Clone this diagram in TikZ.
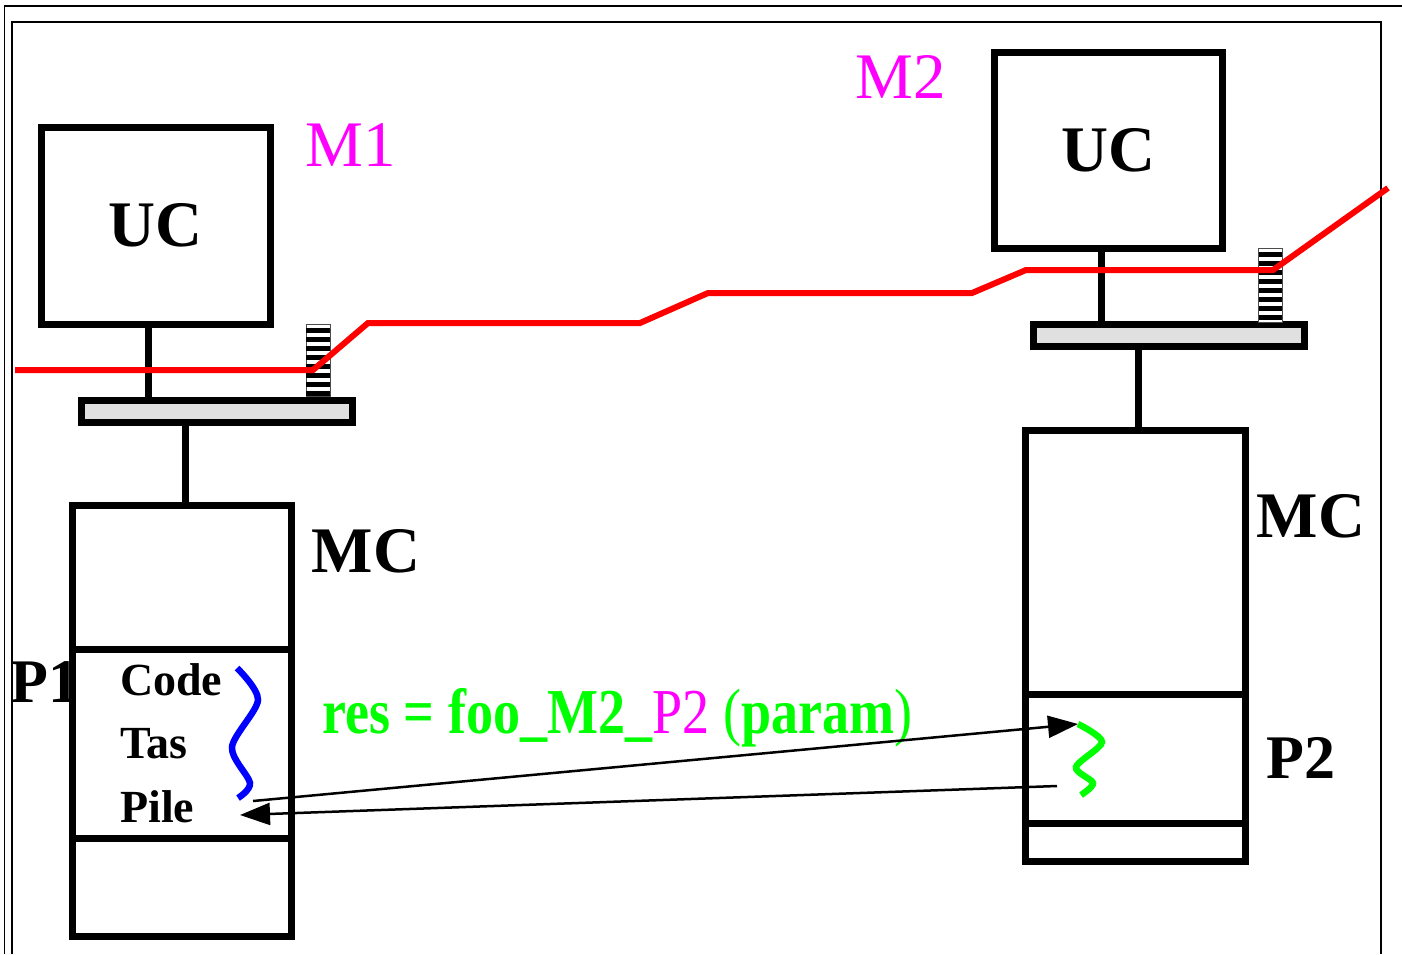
\documentclass[tikz,border=0pt]{standalone}
\usepackage{xcolor}
\usepackage{fontspec}
\setmainfont{Liberation Serif}
\newfontfamily\narrowfont[FakeStretch=0.845]{Liberation Serif}
\usepackage{tikz}
\usetikzlibrary{arrows.meta}

\definecolor{callgreen}{RGB}{0,255,0}
\definecolor{hostpink}{RGB}{255,0,255}
\definecolor{busgray}{RGB}{224,224,224}

\begin{document}
\begin{tikzpicture}[
				x=1pt, y=-1pt,
				cpu/.style={
					rectangle,
					draw=black,
					line width=7pt,
					inner sep=0pt,
					font=\fontsize{65}{70}\selectfont\bfseries
				},
				memory/.style={
					rectangle,
					draw=black,
					fill=white,
					line width=7pt,
					inner sep=0pt
				},
				busbar/.style={
					rectangle,
					draw=black,
					fill=busgray,
					line width=7pt,
					inner sep=0pt,
					minimum height=22pt
				},
				plug/.style={
					rectangle,
					draw=black!70,
					fill=white,
					line width=1pt,
					inner sep=0pt,
					minimum width=24pt
				},
				wire/.style={
					draw=black,
					line width=7pt
				},
				network/.style={
					draw=red,
					line width=6pt
				},
				mlabel/.style={
					text=hostpink,
					inner sep=0pt,
					font=\fontsize{65}{70}\selectfont
				},
				blabel/.style={
					inner sep=0pt,
					font=\fontsize{65}{70}\selectfont\bfseries
				},
				zone/.style={
					inner sep=0pt,
					anchor=base west,
					font=\fontsize{46}{50}\selectfont\bfseries
				},
				thread/.style={
					line width=6.5pt
				},
				call/.style={
					draw=black,
					line width=2.5pt,
					-{Triangle[length=30pt,width=22pt]}
				}
			]

				\useasboundingbox (0,0) rectangle (1402,954);

				% frames
				\draw[line width=1.5pt] (4.5,954) -- (4.5,6) -- (1402,6);
				\draw[line width=1.5pt] (12,954) -- (12,22) -- (1381,22) -- (1381,954);

				% machine M1
				\node[blabel, anchor=west, font=\fontsize{62}{66}\selectfont\bfseries] (p1) at (10,682) {P1};
				\node[cpu, minimum width=229pt, minimum height=197pt] (uc1) at (155.5,225.5) {UC};
				\node[busbar, minimum width=271pt] (bus1) at (217,411) {};
				\node[memory, minimum width=219pt, minimum height=431pt] (mc1) at (182,721) {};
				\node[plug, minimum height=72pt] (plug1) at (318,360) {};
				\foreach \k in {0,...,7}
					\fill (306,328+9*\k) rectangle (330,332.5+9*\k);

				\draw[wire] ([xshift=-7.5pt]uc1.south) -- ([xshift=-7.5pt]uc1.south |- bus1.north);
				\draw[wire] ([xshift=-32pt]bus1.south) -- ([xshift=-32pt]bus1.south |- mc1.north);
				\draw[wire] (mc1.west |- 0,649) -- (mc1.east |- 0,649);
				\draw[wire] (mc1.west |- 0,838) -- (mc1.east |- 0,838);

				% machine M2
				\node[cpu, minimum width=228pt, minimum height=196pt] (uc2) at (1108,150) {UC};
				\node[busbar, minimum width=271pt] (bus2) at (1169,335) {};
				\node[memory, minimum width=220pt, minimum height=431pt] (mc2) at (1135,645.5) {};
				\node[plug, minimum height=74pt] (plug2) at (1270.5,285) {};
				\foreach \k in {0,...,7}
					\fill (1259,252+9*\k) rectangle (1282,256.5+9*\k);

				\draw[wire] ([xshift=-7pt]uc2.south) -- ([xshift=-7pt]uc2.south |- bus2.north);
				\draw[wire] ([xshift=-31pt]bus2.south) -- ([xshift=-31pt]bus2.south |- mc2.north);
				\draw[wire] (mc2.west |- 0,694.5) -- (mc2.east |- 0,694.5);
				\draw[wire] (mc2.west |- 0,823.5) -- (mc2.east |- 0,823.5);

				% network
				\draw[network] (15,370) -- (313,370) -- (368,323) -- (640,323) -- (708,293)
					-- (972,293) -- (1026,270) -- (1273,270) -- (1388,188);

				% labels
				\node[mlabel] (m1) at (351,145) {M1};
				\node[mlabel] (m2) at (901,77) {M2};
				\node[blabel] (mc1lbl) at (366,551) {MC};
				\node[blabel] (mc2lbl) at (1311,516) {MC};
				\node[blabel, anchor=west, font=\fontsize{62}{66}\selectfont\bfseries] (p2) at (1266,758) {P2};

				\node[zone] (code) at (120,695) {Code};
				\node[zone] (tas) at (120,758) {Tas};
				\node[zone] (pile) at (120,822) {Pile};

				\node[inner sep=0pt, anchor=base west, text=callgreen,
					font=\fontsize{64}{68}\selectfont\narrowfont] (rpc) at (322,733)
					{\textbf{res = foo\_M2\_}\textcolor{hostpink}{P2} (\textbf{param})};

				% threads
				\coordinate (b0) at (237,668);
				\coordinate (g0) at (1078,724);
				\draw[thread, blue] plot[smooth] coordinates {(b0) (258,700) (232,747) (250,783) (238,798)};
				\draw[thread, callgreen] plot[smooth] coordinates {(g0) (1102,742) (1076,767) (1093,783) (1081,795)};

				% call and return
				\coordinate (p1out) at (253,801);
				\coordinate (p2out) at (1057,786);
				\coordinate (p1in) at (240,815);

				\draw[call]
					(p1out) to (g0);

				\draw[call]
					(p2out) to (p1in);

			\end{tikzpicture}
\end{document}
